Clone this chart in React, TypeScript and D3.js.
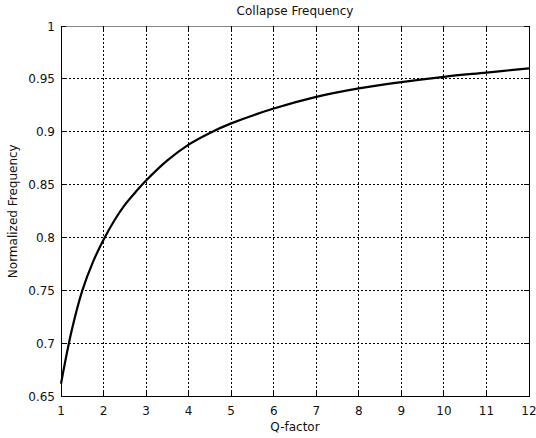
import React from "react";
import * as d3 from "d3";

const qFactor = [1, 1.25, 1.5, 1.75, 2, 2.25, 2.5, 2.75, 3, 3.5, 4, 4.5, 5, 6, 7, 8, 9, 10, 11, 12];
const normFreq = [0.662, 0.712, 0.75, 0.777, 0.798, 0.816, 0.831, 0.843, 0.854, 0.873, 0.888, 0.899, 0.908, 0.922, 0.933, 0.941, 0.947, 0.952, 0.956, 0.96];
const xTicks = [1, 2, 3, 4, 5, 6, 7, 8, 9, 10, 11, 12];
const yTicks = [0.65, 0.7, 0.75, 0.8, 0.85, 0.9, 0.95, 1];
const yTickLabels = ["0.65", "0.7", "0.75", "0.8", "0.85", "0.9", "0.95", "1"];

const W = 536, H = 438;
const L = 61, R = 529, T = 26, B = 396.5;
const FONT = "'DejaVu Sans', sans-serif";
const FS = 12;

export default function App() {
  const x = d3.scaleLinear().domain([1, 12]).range([L, R]);
  const y = d3.scaleLinear().domain([0.65, 1]).range([B, T]);
  const line = d3.line<number>()
    .x((_, i) => x(qFactor[i]))
    .y((d) => y(d))
    .curve(d3.curveCatmullRom.alpha(0.5));
  const path = line(normFreq) || "";
  return (
    <svg width={W} height={H} style={{ position: "absolute", left: 0, top: 0, background: "#fff" }}>
      <rect x={0} y={0} width={W} height={H} fill="#fff" />
      {xTicks.slice(1, -1).map((t) => (
        <line key={"gx" + t} x1={x(t)} x2={x(t)} y1={T} y2={B} stroke="#000" strokeWidth={1} strokeDasharray="2,2" shapeRendering="crispEdges" />
      ))}
      {yTicks.slice(1).map((t) => (
        <line key={"gy" + t} x1={L} x2={R} y1={y(t)} y2={y(t)} stroke="#000" strokeWidth={1} strokeDasharray="2,2" shapeRendering="crispEdges" />
      ))}
      <path d={`M${L},${T}V${B}H${R}V${T}`} fill="none" stroke="#000" strokeWidth={1} shapeRendering="crispEdges" />
      <line x1={L} x2={R} y1={T} y2={T} stroke="#888" strokeWidth={1} shapeRendering="crispEdges" />
      {xTicks.map((t) => (
        <g key={"tx" + t}>
          <line x1={x(t)} x2={x(t)} y1={B} y2={B - 5} stroke="#000" shapeRendering="crispEdges" />
          <line x1={x(t)} x2={x(t)} y1={T} y2={T + 5} stroke="#000" shapeRendering="crispEdges" />
          <text x={x(t)} y={B + 18} textAnchor="middle" fontFamily={FONT} fontSize={FS} fill="#111">{t}</text>
        </g>
      ))}
      {yTicks.map((t, i) => (
        <g key={"ty" + t}>
          <line x1={L} x2={L + 5} y1={y(t)} y2={y(t)} stroke="#000" shapeRendering="crispEdges" />
          <line x1={R} x2={R - 5} y1={y(t)} y2={y(t)} stroke="#000" shapeRendering="crispEdges" />
          <text x={L - 6} y={y(t) + 4.5} textAnchor="end" fontFamily={FONT} fontSize={FS} fill="#111">{yTickLabels[i]}</text>
        </g>
      ))}
      <path d={path} fill="none" stroke="#000" strokeWidth={2.2} />
      <text x={(L + R) / 2} y={15} textAnchor="middle" fontFamily={FONT} fontSize={FS} fill="#111">Collapse Frequency</text>
      <text x={(L + R) / 2} y={431} textAnchor="middle" fontFamily={FONT} fontSize={FS} fill="#111">Q-factor</text>
      <text transform={`translate(17,${(T + B) / 2}) rotate(-90)`} textAnchor="middle" fontFamily={FONT} fontSize={FS} fill="#111">Normalized Frequency</text>
    </svg>
  );
}
